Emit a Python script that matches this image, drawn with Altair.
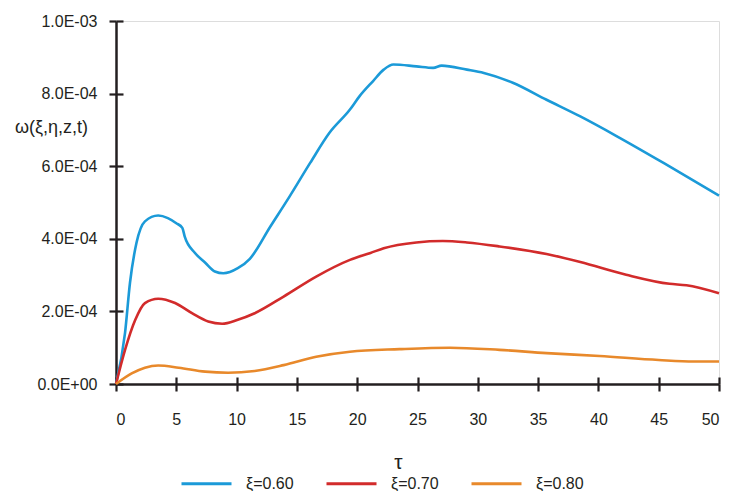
import altair as alt
import pandas as pd

# ---- data ----
series_names = ["ξ=0.60", "ξ=0.70", "ξ=0.80"]
series_colors = ["#1b9ad8", "#d22b2b", "#e8892b"]

tau_a = [0, 0.75, 1.16, 1.7, 2.4, 3.5, 4.3, 5.0, 5.5, 5.7, 6.55, 7.4, 8.2, 8.9, 10.1, 11.1, 12.8,
         14.4, 16.1, 17.7, 19.4, 20.2, 21.3, 22.2, 23.0, 24.9, 26.3, 27.0, 29.1, 30.5, 32.9, 35.7,
         38.5, 41.5, 45.4, 50.0]
w_a = [0, 1.41e-4, 2.79e-4, 3.89e-4, 4.48e-4, 4.64e-4, 4.57e-4, 4.43e-4, 4.30e-4, 4.06e-4, 3.61e-4,
       3.34e-4, 3.10e-4, 3.05e-4, 3.19e-4, 3.45e-4, 4.34e-4, 5.17e-4, 6.09e-4, 6.92e-4, 7.56e-4,
       7.93e-4, 8.34e-4, 8.66e-4, 8.80e-4, 8.75e-4, 8.71e-4, 8.77e-4, 8.66e-4, 8.57e-4, 8.30e-4,
       7.83e-4, 7.37e-4, 6.83e-4, 6.09e-4, 5.19e-4]

tau_b = [0, 0.75, 1.6, 2.4, 3.5, 4.9, 6.3, 7.65, 8.8, 10.1, 11.5, 13.9, 16.6, 19.4, 21.1, 22.2,
         24.9, 27.1, 29.1, 31.8, 35.7, 38.5, 42.3, 45.9, 47.3, 50.0]
w_b = [0, 0.94e-4, 1.77e-4, 2.23e-4, 2.35e-4, 2.23e-4, 1.95e-4, 1.72e-4, 1.66e-4, 1.77e-4, 1.95e-4,
       2.41e-4, 2.96e-4, 3.42e-4, 3.61e-4, 3.74e-4, 3.90e-4, 3.94e-4, 3.90e-4, 3.79e-4, 3.58e-4,
       3.36e-4, 3.01e-4, 2.76e-4, 2.72e-4, 2.50e-4]

tau_c = [0, 1.3, 2.4, 3.5, 5.2, 7.4, 9.3, 11.5, 13.9, 16.6, 19.4, 23.5, 27.7, 31.8, 35.7, 40.1,
         45.0, 47.9, 50.0]
w_c = [0, 0.29e-4, 0.45e-4, 0.51e-4, 0.45e-4, 0.34e-4, 0.31e-4, 0.36e-4, 0.52e-4, 0.75e-4, 0.89e-4,
       0.96e-4, 1.00e-4, 0.94e-4, 0.85e-4, 0.77e-4, 0.66e-4, 0.62e-4, 0.62e-4]

x_ticks = [0, 5, 10, 15, 20, 25, 30, 35, 40, 45, 50]
y_ticks = [0, 2e-4, 4e-4, 6e-4, 8e-4, 1e-3]

rows = []
for name, ts, ws in zip(series_names, [tau_a, tau_b, tau_c], [w_a, w_b, w_c]):
    for t, w in zip(ts, ws):
        rows.append({"tau": t, "w": w, "series": name})
df = pd.DataFrame(rows)

FONT = "Liberation Sans"
INK = "#231f20"
label_expr = "replace(replace(format(datum.value, '.1e'), 'e-', 'E-0'), 'e+', 'E+0')"

xscale = alt.Scale(domain=[0, 50], nice=False, zero=False)
yscale = alt.Scale(domain=[0, 1e-3], nice=False)

lines = alt.Chart(df).mark_line(interpolate="monotone", strokeWidth=2.6).encode(
    x=alt.X("tau:Q", scale=xscale,
            axis=alt.Axis(orient="bottom", values=x_ticks, grid=False, domainColor=INK,
                          domainWidth=2.5, tickColor=INK, tickWidth=2.2, tickSize=7,
                          labelFont=FONT, labelFontSize=16, labelColor=INK, labelPadding=20,
                          title="τ", titleFont=FONT, titleFontSize=21, titleFontWeight="normal",
                          titleColor=INK, titleX=282, titleY=78, titleAlign="center",
                          titleBaseline="middle")),
    y=alt.Y("w:Q", scale=yscale,
            axis=alt.Axis(orient="left", values=y_ticks, grid=False, domainColor=INK,
                          domainWidth=2.5, tickColor=INK, tickWidth=2.2, tickSize=7,
                          labelFont=FONT, labelFontSize=16, labelColor=INK, labelPadding=12,
                          labelExpr=label_expr,
                          title="ω(ξ,η,z,t)", titleFont=FONT, titleFontSize=18,
                          titleFontWeight="normal", titleColor=INK, titleAngle=0,
                          titleX=-65, titleY=106, titleAlign="center", titleBaseline="middle")),
    color=alt.Color("series:N", scale=alt.Scale(domain=series_names, range=series_colors),
                    legend=alt.Legend(orient="none", legendX=64, legendY=436, direction="horizontal",
                                      title=None, symbolType="stroke", symbolSize=2500,
                                      symbolStrokeWidth=3, labelFont=FONT, labelFontSize=16,
                                      labelColor=INK, labelOffset=13, columnPadding=26)),
)

inner = alt.Chart(df).mark_line(opacity=0).encode(
    x=alt.X("tau:Q", scale=xscale,
            axis=alt.Axis(orient="bottom", offset=-7, values=x_ticks, grid=False, domain=False,
                          labels=False, tickColor=INK, tickWidth=2.2, tickSize=7, title=None)),
    y=alt.Y("w:Q", scale=yscale,
            axis=alt.Axis(orient="left", offset=-7, values=y_ticks, grid=False, domain=False,
                          labels=False, tickColor=INK, tickWidth=2.2, tickSize=7, title=None)),
    detail="series:N",
)

chart = alt.layer(lines, inner).resolve_axis(x="independent", y="independent").properties(
    width=603, height=363,
    autosize=alt.AutoSizeParams(type="none"),
    padding={"left": 108, "top": 13, "right": 15, "bottom": 107},
).configure_view(stroke=None).configure(background="white")

chart.save("out.html", embed_options={"renderer": "svg", "actions": False})
